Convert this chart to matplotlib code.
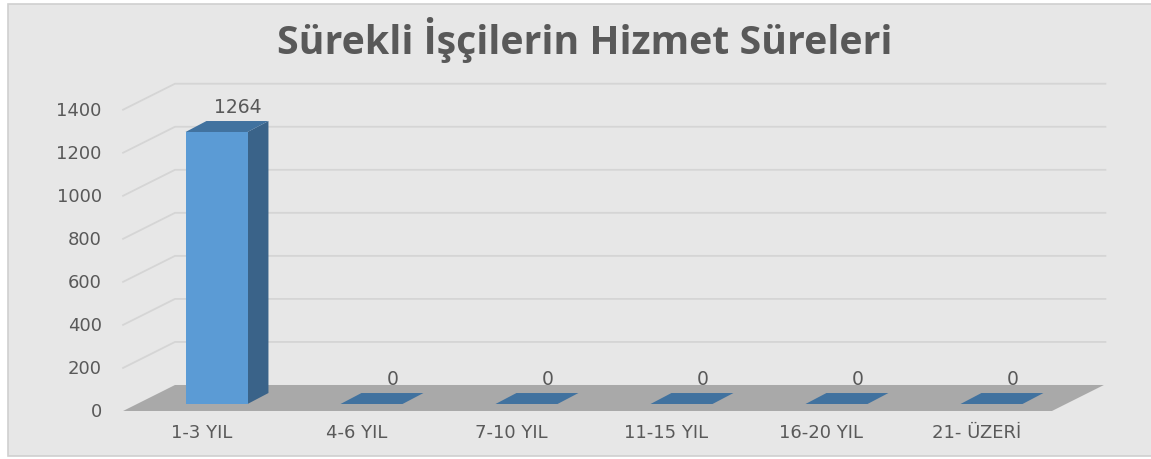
import matplotlib.pyplot as plt
from matplotlib.patches import Polygon, Rectangle

categories = ["1-3 YIL", "4-6 YIL", "7-10 YIL", "11-15 YIL", "16-20 YIL", "21- ÜZERİ"]
values = [1264, 0, 0, 0, 0, 0]
yticks = [0, 200, 400, 600, 800, 1000, 1200, 1400]
title = "Sürekli İşçilerin Hizmet Süreleri"

TXT = "#595959"
FRONT = "#5b9bd5"
SIDE = "#3a6389"
TOP = "#41729f"
FLOOR = "#a9a9a9"
GRID = "#d5d5d5"
BG = "#e7e7e7"

# fake 3d geometry (category units, value units)
bw = 0.4
dx_bar, dy_bar = 0.135, 51        # bar depth
dx_full, dy_full = 0.335, 120.8   # floor depth
front_dy = -32.5                  # front plane below bar plane
front_l, front_r = -0.603, 5.39

fig = plt.figure(figsize=(11.51, 4.60), dpi=100)
fig.patch.set_facecolor("white")
fig.patches.append(Rectangle((8 / 1151, 3 / 460), 1.0, 452 / 460, transform=fig.transFigure,
                             facecolor=BG, edgecolor="#d0d0d0", lw=1.2, zorder=-5))

ax = fig.add_axes([0, 0, 1, 1])
ax.set_xlim(-1.397, 6.029)
ax.set_ylim(-255.6, 1882)
ax.axis("off")

# back wall gridlines
for v in yticks[1:]:
    y0 = v + front_dy
    ax.plot([front_l, front_l + dx_full, front_r + dx_full + 0.01],
            [y0, y0 + dy_full, y0 + dy_full], color=GRID, lw=1.3, zorder=1)

for v in yticks:
    ax.text(-0.74, v + front_dy, str(v), ha="right", va="center", fontsize=13, color=TXT)

# floor
ax.add_patch(Polygon([(front_l, front_dy), (front_l + dx_full, front_dy + dy_full),
                      (front_r + dx_full, front_dy + dy_full), (front_r, front_dy)],
                     closed=True, facecolor=FLOOR, edgecolor="none", zorder=2))

x = list(range(len(categories)))
ax.bar(x, values, width=bw, color=FRONT, zorder=4)
for c, v in zip(x, values):
    r, l = c + bw / 2, c - bw / 2
    if v > 0:
        ax.add_patch(Polygon([(r, 0), (r + dx_bar, dy_bar), (r + dx_bar, v + dy_bar), (r, v)],
                             closed=True, facecolor=SIDE, edgecolor="none", zorder=3))
    ax.add_patch(Polygon([(l, v), (l + dx_bar, v + dy_bar), (r + dx_bar, v + dy_bar), (r, v)],
                         closed=True, facecolor=TOP, edgecolor="none", zorder=3))
    ax.text(c + dx_bar, v + dy_bar + 22, str(v), ha="center", va="bottom", fontsize=13.5, color=TXT)
    ax.text(c - 0.097, -130, categories[c], ha="center", va="center", fontsize=13, color=TXT)

fig.text(0.508, 1 - 40 / 460, title, ha="center", va="center", fontsize=28.3,
         fontweight="bold", color=TXT, family="Open Sans")

fig.savefig("out.png", dpi=100, facecolor=fig.get_facecolor())
